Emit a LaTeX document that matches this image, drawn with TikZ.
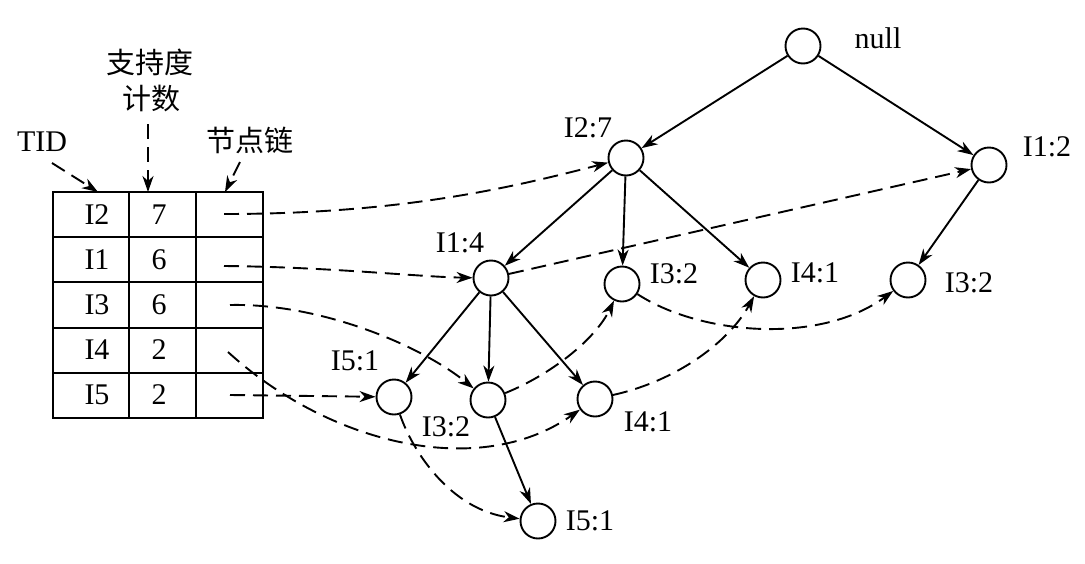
\documentclass[tikz,border=0pt]{standalone}
\usepackage{fontspec}
\setmainfont{Liberation Serif}
\newfontfamily\cjk{Noto Sans CJK SC}
\usetikzlibrary{arrows.meta}
\begin{document}
\begin{tikzpicture}[x=1pt,y=-1pt,
  vtx/.style={circle,draw,line width=1.9pt,minimum size=35pt,inner sep=0pt},
  lbl/.style={font=\fontsize{30}{32}\selectfont,inner sep=0pt},
  cjkl/.style={font=\cjk\fontsize{29}{31}\selectfont,inner sep=0pt},
  tr/.style={-{Stealth[length=16pt,width=11pt,inset=5pt]},line width=1.9pt},
  dl/.style={tr,dash pattern=on 15pt off 8pt},
  grid/.style={line width=1.9pt}]
\useasboundingbox (0,0) rectangle (1085,563);

% table
\draw[grid] (53,192) rectangle (263,418);
\draw[grid] (129,192) -- (129,418) (196,192) -- (196,418);
\foreach \yy in {237,282,328,373} \draw[grid] (53,\yy) -- (263,\yy);
\node[lbl] (ta1) at (97,215) {I2};
\node[lbl] (tb1) at (159,215) {7};
\node[lbl] (ta2) at (97,260) {I1};
\node[lbl] (tb2) at (159,260) {6};
\node[lbl] (ta3) at (97,305) {I3};
\node[lbl] (tb3) at (159,305) {6};
\node[lbl] (ta4) at (97,350) {I4};
\node[lbl] (tb4) at (159,350) {2};
\node[lbl] (ta5) at (97,395) {I5};
\node[lbl] (tb5) at (159,395) {2};
\coordinate (p1) at (224,214);
\coordinate (p2) at (224,266);
\coordinate (p3) at (230,305);
\coordinate (p4) at (228,352);
\coordinate (p5) at (230,395);

% headers
\node[lbl] (tid) at (42,142) {TID};
\node[cjkl] (sup1) at (150,62) {支持度};
\node[cjkl] (sup2) at (151,99) {计数};
\node[cjkl] (chain) at (250,140) {节点链};
\coordinate (h1s) at (52,163);
\coordinate (h1e) at (98,192);
\coordinate (h2s) at (148,124);
\coordinate (h2e) at (148,192);
\coordinate (h3s) at (240,162);
\coordinate (h3e) at (225,192);
\draw[dl] (h1s) -- (h1e);
\draw[dl] (h2s) -- (h2e);
\draw[dl] (h3s) -- (h3e);

% tree nodes
\node[vtx] (null) at (803,46) {};
\node[vtx] (a27) at (626,158) {};
\node[vtx] (a12) at (989,165) {};
\node[vtx] (b14) at (491,278) {};
\node[vtx] (b32) at (622,284) {};
\node[vtx] (b41) at (763,280) {};
\node[vtx] (c32) at (908,280) {};
\node[vtx] (d51) at (394,397) {};
\node[vtx] (d32) at (488,400) {};
\node[vtx] (d41) at (595,399) {};
\node[vtx] (e51) at (538,521) {};

\node[lbl] at (878,38) {null};
\node[lbl] at (588,128) {I2:7};
\node[lbl] at (1047,147) {I1:2};
\node[lbl] at (460,243) {I1:4};
\node[lbl] at (674,274) {I3:2};
\node[lbl] at (815,273) {I4:1};
\node[lbl] at (969,283) {I3:2};
\node[lbl] at (355,361) {I5:1};
\node[lbl] at (446,427) {I3:2};
\node[lbl] at (648,422) {I4:1};
\node[lbl] at (590,521) {I5:1};

% tree edges
\draw[tr] (null) -- (a27);
\draw[tr] (null) -- (a12);
\draw[tr] (a27) -- (b14);
\draw[tr] (a27) -- (b32);
\draw[tr] (a27) -- (b41);
\draw[tr] (a12) -- (c32);
\draw[tr] (b14) -- (d51);
\draw[tr] (b14) -- (d32);
\draw[tr] (b14) -- (d41);
\draw[tr] (d32) -- (e51);

% node links
\draw[dl] (p1) .. controls (400,214) and (510,188) .. (a27);
\draw[dl] (p2) .. controls (330,267) and (420,277) .. (b14);
\draw[dl] (p3) .. controls (320,303) and (420,345) .. (d32);
\draw[dl] (p4) .. controls (330,445) and (480,480) .. (d41);
\draw[dl] (p5) -- (d51);
\draw[dl] (b14) -- (a12);
\draw[dl] (b32) .. controls (700,335) and (820,345) .. (c32);
\draw[dl] (d32) .. controls (550,375) and (595,340) .. (b32);
\draw[dl] (d51) .. controls (412,450) and (450,510) .. (e51);
\draw[dl] (d41) .. controls (680,380) and (730,340) .. (b41);
\end{tikzpicture}
\end{document}
